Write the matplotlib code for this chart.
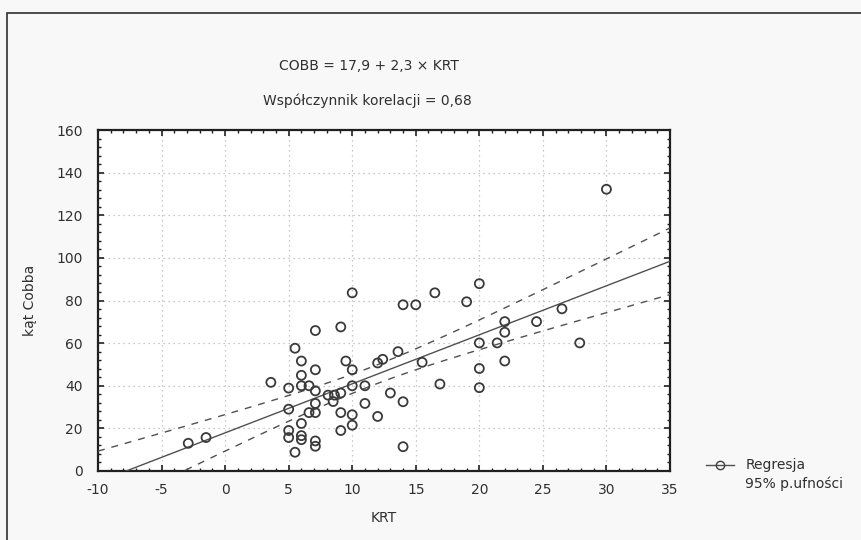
import numpy as np
import matplotlib
matplotlib.use("Agg")
import matplotlib.pyplot as plt
from matplotlib.lines import Line2D
from matplotlib.patches import Rectangle
from matplotlib.ticker import MultipleLocator

# ---- data ----
krt = [-2.9, -1.5, 3.6, 5.0, 5.0, 5.0, 5.0, 5.5, 5.5, 6.0, 6.0, 6.0, 6.0, 6.0, 6.0,
       6.6, 6.6, 7.1, 7.1, 7.1, 7.1, 7.1, 7.1, 7.1, 8.1, 8.5, 8.6, 9.1, 9.1, 9.1,
       9.1, 9.5, 10.0, 10.0, 10.0, 10.0, 10.0, 11.0, 11.0, 12.0, 12.0, 12.4, 13.0,
       13.6, 14.0, 14.0, 14.0, 15.0, 15.5, 16.5, 16.9, 19.0, 20.0, 20.0, 20.0, 20.0,
       21.4, 22.0, 22.0, 22.0, 24.5, 26.5, 27.9, 30.0]
cobb = [13.0, 15.7, 41.6, 38.9, 29.0, 19.0, 15.7, 57.6, 8.8, 51.6, 44.9, 40.0, 22.3,
        16.6, 14.7, 40.0, 27.4, 65.9, 47.5, 37.6, 31.7, 27.4, 14.1, 11.6, 35.6, 32.6,
        35.6, 67.6, 36.6, 27.4, 19.0, 51.6, 83.6, 47.5, 40.0, 26.4, 21.5, 40.0, 31.7,
        25.6, 50.7, 52.4, 36.6, 56.0, 78.0, 32.5, 11.4, 78.0, 51.0, 83.6, 40.8, 79.4,
        87.9, 60.1, 48.1, 39.1, 60.1, 70.1, 65.1, 51.6, 70.1, 76.1, 60.1, 132.2]
intercept = 17.9
slope = 2.3
x_ticks = [-10, -5, 0, 5, 10, 15, 20, 25, 30, 35]
y_ticks = [0, 20, 40, 60, 80, 100, 120, 140, 160]
title1 = "COBB = 17,9 + 2,3 × KRT"
title2 = "Współczynnik korelacji = 0,68"
xlabel = "KRT"
ylabel = "kąt Cobba"
legend_labels = ["Regresja", "95% p.ufności"]

plt.rcParams['font.family'] = ['DejaVu Sans']
plt.rcParams['font.size'] = 10
plt.rcParams['axes.unicode_minus'] = False

FS = 10
TXT = '#303030'
W, H = 862, 540
fig = plt.figure(figsize=(W / 100, H / 100), dpi=100)
fig.patch.set_facecolor('#f8f8f8')
# outer frame
fig.patches.append(Rectangle((7 / W, -0.05), 1.0, (H - 13) / H + 0.05,
                             transform=fig.transFigure, fill=False,
                             edgecolor='#303030', linewidth=1.2))

ax = fig.add_axes([98 / W, (H - 471) / H, (670 - 98) / W, (471 - 130) / H])
ax.set_facecolor('white')

x = np.array(krt)
y = np.array(cobb)
n = len(x)
xs = np.linspace(-10, 35, 300)
fit = intercept + slope * xs
res = y - (intercept + slope * x)
s = np.sqrt(np.sum(res ** 2) / (n - 2))
xm = x.mean()
sxx = np.sum((x - xm) ** 2)
se = s * np.sqrt(1.0 / n + (xs - xm) ** 2 / sxx)
tval = 1.999

ax.plot(xs, fit, color='#505050', lw=1.0, zorder=3)
ax.plot(xs, fit + tval * se, color='#505050', lw=1.0, ls=(0, (5, 5)), zorder=3)
ax.plot(xs, fit - tval * se, color='#505050', lw=1.0, ls=(0, (5, 5)), zorder=3)
ax.scatter(x, y, s=42, facecolors='none', edgecolors='#3a3a3a', linewidths=1.3, zorder=4)

ax.set_xlim(-10, 35)
ax.set_ylim(0, 160)
ax.set_xticks(x_ticks)
ax.set_yticks(y_ticks)
ax.xaxis.set_minor_locator(MultipleLocator(1))
ax.yaxis.set_minor_locator(MultipleLocator(4))
ax.tick_params(which='both', direction='in', top=True, right=True, color='#202020')
ax.tick_params(which='major', length=4, width=1.2, pad=9, labelsize=FS, labelcolor=TXT)
ax.tick_params(which='minor', length=2.5, width=1.0)
ax.tick_params(axis='y', which='major', pad=11)
for sp in ax.spines.values():
    sp.set_linewidth(1.6)
    sp.set_color('#202020')
ax.grid(True, which='major', color='#b8b8b8', ls=(0, (1, 3)), lw=0.9)
ax.set_axisbelow(True)

ax.set_xlabel(xlabel, fontsize=FS, color=TXT, labelpad=10)
ax.set_ylabel(ylabel, fontsize=FS, color=TXT, labelpad=14)

fig.text(369 / W, 1 - 66 / H, title1, ha='center', va='center', fontsize=FS, color=TXT)
fig.text(367 / W, 1 - 101 / H, title2, ha='center', va='center', fontsize=FS, color=TXT)

handles = [Line2D([0], [0], color='#505050', lw=1.0, marker='o', markersize=6,
                  markerfacecolor='none', markeredgecolor='#404040'),
           Line2D([], [], alpha=0)]
fig.legend(handles, legend_labels, loc='upper left', bbox_to_anchor=(694 / W, 1 - 446 / H),
           frameon=False, fontsize=FS, handlelength=2.0, handletextpad=0.8,
           labelspacing=0.3, labelcolor=TXT)

fig.savefig('out.png', dpi=100, facecolor=fig.get_facecolor())
